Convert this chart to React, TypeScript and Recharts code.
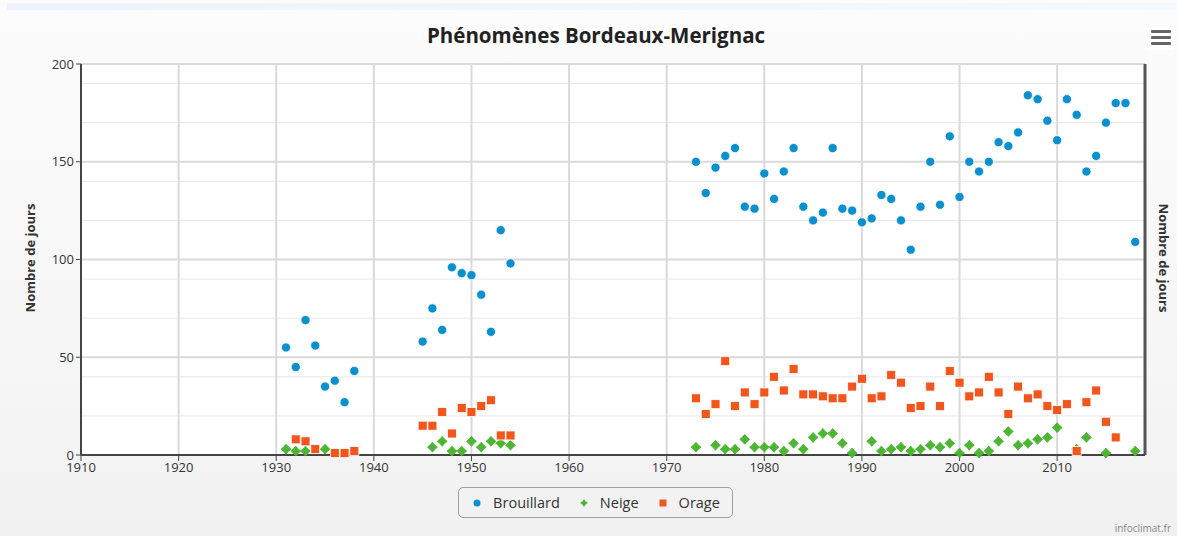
import React from 'react';
import { ScatterChart, Scatter, XAxis, YAxis, CartesianGrid, ReferenceLine } from 'recharts';

// Brouillard (fog) days per year
const brouillardYears = [
  1931, 1932, 1933, 1934, 1935, 1936, 1937, 1938,
  1945, 1946, 1947, 1948, 1949, 1950, 1951, 1952, 1953, 1954,
  1973, 1974, 1975, 1976, 1977, 1978, 1979, 1980, 1981, 1982, 1983, 1984, 1985, 1986, 1987, 1988, 1989,
  1990, 1991, 1992, 1993, 1994, 1995, 1996, 1997, 1998, 1999, 2000, 2001, 2002, 2003, 2004, 2005, 2006,
  2007, 2008, 2009, 2010, 2011, 2012, 2013, 2014, 2015, 2016, 2017, 2018,
];
const brouillardValues = [
  55, 45, 69, 56, 35, 38, 27, 43,
  58, 75, 64, 96, 93, 92, 82, 63, 115, 98,
  150, 134, 147, 153, 157, 127, 126, 144, 131, 145, 157, 127, 120, 124, 157, 126, 125,
  119, 121, 133, 131, 120, 105, 127, 150, 128, 163, 132, 150, 145, 150, 160, 158, 165,
  184, 182, 171, 161, 182, 174, 145, 153, 170, 180, 180, 109,
];

// Neige (snow)
const neigeYears = [
  1931, 1932, 1933, 1935,
  1946, 1947, 1948, 1949, 1950, 1951, 1952, 1953, 1954,
  1973, 1975, 1976, 1977, 1978, 1979, 1980, 1981, 1982, 1983, 1984, 1985, 1986, 1987, 1988, 1989,
  1991, 1992, 1993, 1994, 1995, 1996, 1997, 1998, 1999, 2000, 2001, 2002, 2003, 2004, 2005, 2006,
  2007, 2008, 2009, 2010, 2012, 2013, 2015, 2018,
];
const neigeValues = [
  3, 2, 2, 3,
  4, 7, 2, 2, 7, 4, 7, 6, 5,
  4, 5, 3, 3, 8, 4, 4, 4, 2, 6, 3, 9, 11, 11, 6, 1,
  7, 2, 3, 4, 2, 3, 5, 4, 6, 1, 5, 1, 2, 7, 12, 5,
  6, 8, 9, 14, 3, 9, 1, 2,
];

// Orage (storm)
const orageYears = [
  1932, 1933, 1934, 1936, 1937, 1938,
  1945, 1946, 1947, 1948, 1949, 1950, 1951, 1952, 1953, 1954,
  1973, 1974, 1975, 1976, 1977, 1978, 1979, 1980, 1981, 1982, 1983, 1984, 1985, 1986, 1987, 1988, 1989,
  1990, 1991, 1992, 1993, 1994, 1995, 1996, 1997, 1998, 1999, 2000, 2001, 2002, 2003, 2004, 2005, 2006,
  2007, 2008, 2009, 2010, 2011, 2012, 2013, 2014, 2015, 2016,
];
const orageValues = [
  8, 7, 3, 1, 1, 2,
  15, 15, 22, 11, 24, 22, 25, 28, 10, 10,
  29, 21, 26, 48, 25, 32, 26, 32, 40, 33, 44, 31, 31, 30, 29, 29, 35,
  39, 29, 30, 41, 37, 24, 25, 35, 25, 43, 37, 30, 32, 40, 32, 21, 35,
  29, 31, 25, 23, 26, 2, 27, 33, 17, 9,
];

const xTicks = [1910, 1920, 1930, 1940, 1950, 1960, 1970, 1980, 1990, 2000, 2010];
const yTicks = [0, 50, 100, 150, 200];
const yMinorLines = [10, 20, 30, 40, 60, 70, 80, 90, 110, 120, 130, 140, 160, 170, 180, 190];

const zip = (xs: number[], ys: number[]) => xs.map((x, i) => ({ x, y: ys[i] }));

const BLUE = '#0c8fcd';
const GREEN = '#4cb532';
const ORANGE = '#f2561d';
const FONT = '"Open Sans", "DejaVu Sans", sans-serif';

const Dot = (p: any) => <circle cx={p.cx} cy={p.cy} r={4.6} fill={BLUE} stroke="#fff" strokeWidth={0.8} />;
const Square = (p: any) => (
  <rect x={p.cx - 4.5} y={p.cy - 4.5} width={9} height={9} fill={ORANGE} stroke="#fff" strokeWidth={0.8} />
);
const Star = (p: any) => {
  const { cx, cy } = p;
  const a = 5, b = 2.3;
  const d = `M${cx},${cy - a} L${cx + b},${cy - b} L${cx + a},${cy} L${cx + b},${cy + b} L${cx},${cy + a} L${cx - b},${cy + b} L${cx - a},${cy} L${cx - b},${cy - b} Z`;
  return <path d={d} fill={GREEN} stroke={GREEN} strokeWidth={0.8} strokeLinejoin="round" />;
};

const App = () => {
  return (
    <div
      style={{
        position: 'absolute', left: 0, top: 0, width: 1177, height: 536, overflow: 'hidden',
        background: 'linear-gradient(to bottom, #fcfcfc 0%, #f7f7f7 60%, #f1f1f1 100%)',
        fontFamily: FONT,
      }}
    >
      <div style={{ position: 'absolute', left: 7, top: 3, width: 1170, height: 7, background: 'linear-gradient(to right, #edf3fa, #f6f9fc)' }} />
      <div style={{ position: 'absolute', top: 21, left: 0, width: 1192, textAlign: 'center', fontSize: 20.5, fontWeight: 700, color: '#222' }}>
        Phénomènes Bordeaux-Merignac
      </div>
      {/* menu button */}
      <div style={{ position: 'absolute', left: 1148, top: 26, width: 26, height: 24, background: '#fff', borderRadius: 2 }}>
        {[0, 1, 2].map((i) => (
          <div key={i} style={{ position: 'absolute', left: 3, top: 4 + i * 6, width: 20, height: 3, background: '#666', borderRadius: 1 }} />
        ))}
      </div>
      <ScatterChart width={1177} height={536} margin={{ top: 64, right: 32, bottom: 51, left: 31 }} style={{ position: 'absolute', left: 0, top: 0 }}>
        <CartesianGrid fill="#fff" stroke="#e8e8e8" strokeWidth={1} vertical={false} horizontalValues={yMinorLines} />
        <CartesianGrid stroke="#dadada" strokeWidth={2} horizontalValues={[50, 100, 150, 200]} verticalValues={xTicks} />
        <XAxis
          type="number" dataKey="x" domain={[1910, 2019]} ticks={xTicks} height={30}
          axisLine={{ stroke: '#444', strokeWidth: 2 }} tickLine={{ stroke: '#444' }} tickSize={6}
          tick={{ fill: '#333', fontSize: 13, fontFamily: FONT }} allowDataOverflow
        />
        <YAxis
          type="number" dataKey="y" domain={[0, 200]} ticks={yTicks} width={50}
          axisLine={{ stroke: '#444', strokeWidth: 2 }} tickLine={{ stroke: '#444' }} tickSize={5}
          tick={{ fill: '#333', fontSize: 13, fontFamily: FONT }}
        />
        <ReferenceLine x={2019} stroke="#555" strokeWidth={3} ifOverflow="visible" />
        <Scatter name="Brouillard" data={zip(brouillardYears, brouillardValues)} shape={Dot} isAnimationActive={false} />
        <Scatter name="Neige" data={zip(neigeYears, neigeValues)} shape={Star} isAnimationActive={false} />
        <Scatter name="Orage" data={zip(orageYears, orageValues)} shape={Square} isAnimationActive={false} />
      </ScatterChart>
      <div style={{ position: 'absolute', left: 30, top: 258, transform: 'translate(-50%, -50%) rotate(-90deg)', whiteSpace: 'nowrap', fontSize: 13, fontWeight: 700, color: '#333' }}>
        Nombre de jours
      </div>
      <div style={{ position: 'absolute', left: 1164, top: 258, transform: 'translate(-50%, -50%) rotate(90deg)', whiteSpace: 'nowrap', fontSize: 13, fontWeight: 700, color: '#333' }}>
        Nombre de jours
      </div>
      {/* legend */}
      <div
        style={{
          position: 'absolute', left: 458, top: 487, width: 273, height: 29, border: '1px solid #a0a0a0', borderRadius: 5,
          display: 'flex', alignItems: 'center', justifyContent: 'center', fontSize: 14.5, color: '#333',
        }}
      >
        {[
          { label: 'Brouillard', shape: <circle cx={6} cy={6} r={3.5} fill={BLUE} /> },
          { label: 'Neige', shape: <path d="M6,2 L7.6,4.4 L10,6 L7.6,7.6 L6,10 L4.4,7.6 L2,6 L4.4,4.4 Z" fill={GREEN} /> },
          { label: 'Orage', shape: <rect x={2.5} y={2.5} width={7} height={7} fill={ORANGE} /> },
        ].map((it, i) => (
          <div key={i} style={{ display: 'flex', alignItems: 'center', marginLeft: i ? 18 : 0 }}>
            <svg width={12} height={12} style={{ marginRight: 10 }}>{it.shape}</svg>
            <span>{it.label}</span>
          </div>
        ))}
      </div>
      <div style={{ position: 'absolute', right: 6, top: 521, fontSize: 10, color: '#888' }}>infoclimat.fr</div>
    </div>
  );
};

export default App;
